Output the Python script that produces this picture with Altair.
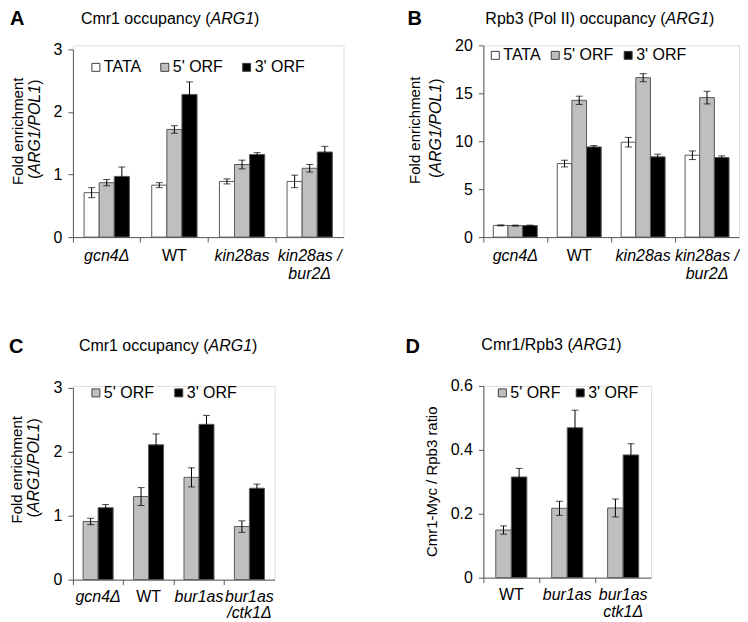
import altair as alt
import pandas as pd

FONT = "Liberation Sans"
AX = "#595959"

SERIES3 = ["TATA", "5' ORF", "3' ORF"]
SERIES2 = ["5' ORF", "3' ORF"]
COL3 = ["#ffffff", "#bfbfbf", "#000000"]
COL2 = ["#bfbfbf", "#000000"]

# Panel A: Cmr1 occupancy
A_cats = ["gcn4Δ", "WT", "kin28as", "kin28as /\nbur2Δ"]
A_tata = [0.71, 0.83, 0.89, 0.89]
A_tata_err = [0.08, 0.04, 0.04, 0.10]
A_5orf = [0.87, 1.72, 1.16, 1.10]
A_5orf_err = [0.05, 0.06, 0.07, 0.06]
A_3orf = [0.97, 2.28, 1.32, 1.36]
A_3orf_err = [0.15, 0.20, 0.03, 0.09]

# Panel B: Rpb3 occupancy
B_cats = ["gcn4Δ", "WT", "kin28as", "kin28as /\nbur2Δ"]
B_tata = [1.22, 7.67, 9.90, 8.54]
B_tata_err = [0.05, 0.35, 0.50, 0.45]
B_5orf = [1.20, 14.27, 16.63, 14.55]
B_5orf_err = [0.05, 0.43, 0.42, 0.66]
B_3orf = [1.20, 9.41, 8.37, 8.30]
B_3orf_err = [0.05, 0.14, 0.28, 0.17]

# Panel C: Cmr1 occupancy
C_cats = ["gcn4Δ", "WT", "bur1as", "bur1as\n/ctk1Δ"]
C_5orf = [0.91, 1.30, 1.60, 0.83]
C_5orf_err = [0.05, 0.14, 0.15, 0.09]
C_3orf = [1.125, 2.11, 2.43, 1.43]
C_3orf_err = [0.05, 0.17, 0.14, 0.065]

# Panel D: Cmr1/Rpb3 ratio
D_cats = ["WT", "bur1as", "bur1as\nctk1Δ"]
D_5orf = [0.149, 0.217, 0.218]
D_5orf_err = [0.013, 0.022, 0.028]
D_3orf = [0.315, 0.469, 0.384]
D_3orf_err = [0.027, 0.055, 0.035]

# Arial / Liberation Sans advance widths (per 1000 em)
W = {" ": 278, "(": 333, ")": 333, "/": 278, "1": 556, "3": 556, "A": 667, "C": 722,
     "G": 778, "I": 278, "L": 556, "O": 778, "P": 667, "R": 722, "a": 556, "b": 556,
     "c": 500, "l": 222, "m": 833, "n": 556, "o": 556, "p": 556, "r": 333, "u": 556,
     "y": 500}


def tw(s, size):
    return sum(W.get(ch, 556) for ch in s) * size / 1000.0


def frame(cats, series, vals, errs):
    rows = []
    for s, v, e in zip(series, vals, errs):
        for c, vv, ee in zip(cats, v, e):
            rows.append({"cat": c, "series": s, "val": vv, "lo": vv - ee, "hi": vv + ee})
    return pd.DataFrame(rows)


def txt(s, x, y, size=16, style="normal", weight="normal", angle=0,
        align="left", baseline="alphabetic"):
    kw = dict(font=FONT, fontSize=size, fontStyle=style, fontWeight=weight,
              align=align, baseline=baseline, color="black")
    if angle:
        kw["angle"] = angle
    return alt.Chart(pd.DataFrame({"t": [s]})).mark_text(**kw).encode(
        text="t:N", x=alt.value(x), y=alt.value(y))


def htitle(pieces, x, y, size=16):
    out = []
    cx = x
    for s, style in pieces:
        out.append(txt(s, cx, y, size=size, style=style))
        cx += tw(s, size)
    return out


def vtitle(pieces, cx, cy, size=16):
    total = sum(tw(s, size) for s, _ in pieces)
    out = []
    y = cy + total / 2.0
    for s, style in pieces:
        out.append(txt(s, cx, y, size=size, style=style, angle=270,
                       align="left", baseline="middle"))
        y -= tw(s, size)
    return out


def panel(df, cats, series, colors, width, height, yrange, ydomain, yvalues, yfmt,
          off_pad, leg_x, leg_y, col_pad, lab_pad, lab_lh, annotations):
    xaxis = alt.Axis(title=None, bandPosition=0, domainColor=AX, tickColor=AX,
                     tickSize=5, labelAngle=0, labelFont=FONT, labelFontSize=16,
                     labelColor="black", labelPadding=lab_pad,
                     labelExpr="split(datum.label, '\\n')", labelLineHeight=lab_lh,
                     labelFontStyle={"condition": {"test": "datum.value == 'WT'",
                                                   "value": "normal"},
                                     "value": "italic"})
    yscale = alt.Scale(domain=ydomain, range=yrange, nice=False)
    yaxis = alt.Axis(title=None, values=yvalues, grid=False, domainColor=AX,
                     tickColor=AX, tickSize=5, labelFont=FONT, labelFontSize=16,
                     labelColor="black", labelPadding=6, format=yfmt)
    base = alt.Chart(df).encode(
        x=alt.X("cat:N", sort=cats, scale=alt.Scale(paddingInner=0, paddingOuter=0),
                axis=xaxis),
        xOffset=alt.XOffset("series:N", sort=series,
                            scale=alt.Scale(paddingInner=0, paddingOuter=off_pad)),
    )
    bars = base.mark_bar(stroke=AX, strokeWidth=1).encode(
        y=alt.Y("val:Q", scale=yscale, axis=yaxis),
        color=alt.Color("series:N", sort=series,
                        scale=alt.Scale(domain=series, range=colors),
                        legend=alt.Legend(orient="none", legendX=leg_x, legendY=leg_y,
                                          direction="horizontal", title=None,
                                          symbolType="square", symbolSize=64,
                                          symbolStrokeColor="#404040",
                                          symbolStrokeWidth=1, labelFont=FONT,
                                          labelFontSize=16, labelColor="black",
                                          labelOffset=0, columnPadding=col_pad,
                                          padding=0)),
    )
    rules = base.mark_rule(color="black", strokeWidth=1).encode(
        y=alt.Y("lo:Q", scale=yscale, axis=yaxis), y2="hi:Q")
    cap_hi = base.mark_tick(color="black", thickness=1, size=7,
                            orient="horizontal").encode(
        y=alt.Y("hi:Q", scale=yscale, axis=yaxis))
    cap_lo = base.mark_tick(color="black", thickness=1, size=7,
                            orient="horizontal").encode(
        y=alt.Y("lo:Q", scale=yscale, axis=yaxis))
    return alt.layer(bars, rules, cap_lo, cap_hi, *annotations).properties(
        width=width, height=height)


dfA = frame(A_cats, SERIES3, [A_tata, A_5orf, A_3orf], [A_tata_err, A_5orf_err, A_3orf_err])
dfB = frame(B_cats, SERIES3, [B_tata, B_5orf, B_3orf], [B_tata_err, B_5orf_err, B_3orf_err])
dfC = frame(C_cats, SERIES2, [C_5orf, C_3orf], [C_5orf_err, C_3orf_err])
dfD = frame(D_cats, SERIES2, [D_5orf, D_3orf], [D_5orf_err, D_3orf_err])

annA = ([txt("A", -63, -20, size=20, weight="bold")]
        + htitle([("Cmr1 occupancy (", "normal"), ("ARG1", "italic"), (")", "normal")], 8, -21)
        + [txt("Fold enrichment", -55, 86, size=15, angle=270, align="center", baseline="middle")]
        + vtitle([("(", "normal"), ("ARG1/POL1", "italic"), (")", "normal")], -38, 84))
annB = ([txt("B", -76, -20, size=20, weight="bold")]
        + htitle([("Rpb3 (Pol II) occupancy (", "normal"), ("ARG1", "italic"), (")", "normal")], 2, -21)
        + [txt("Fold enrichment", -68, 85, size=15, angle=270, align="center", baseline="middle")]
        + vtitle([("(", "normal"), ("ARG1/POL1", "italic"), (")", "normal")], -47, 83))
annC = ([txt("C", -64, -33, size=20, weight="bold")]
        + htitle([("Cmr1 occupancy (", "normal"), ("ARG1", "italic"), (")", "normal")], 6, -35)
        + [txt("Fold enrichment", -56, 84, size=15, angle=270, align="center", baseline="middle")]
        + vtitle([("(", "normal"), ("ARG1/POL1", "italic"), (")", "normal")], -39, 82))
annD = ([txt("D", -78, -33, size=20, weight="bold")]
        + htitle([("Cmr1/Rpb3 (", "normal"), ("ARG1", "italic"), (")", "normal")], -2, -36)
        + [txt("Cmr1-Myc / Rpb3 ratio", -51, 96, size=15, angle=270, align="center", baseline="middle")])

pA = panel(dfA, A_cats, SERIES3, COL3, 271, 192, [192, 4], [0, 3], [0, 1, 2, 3], "d",
           0.74, 15, 14, 15, 5, 18, annA)
pB = panel(dfB, B_cats, SERIES3, COL3, 256, 192, [192, 0], [0, 20], [0, 5, 10, 15, 20], "d",
           0.68, 4, 2, 6, 5, 18, annB)
pC = panel(dfC, C_cats, SERIES2, COL2, 202, 194, [194, 2], [0, 3], [0, 1, 2, 3], "d",
           0.68, 15, -1, 16, 4, 16, annC)
pD = panel(dfD, D_cats, SERIES2, COL2, 168, 192, [192, 0], [0, 0.6], [0, 0.2, 0.4, 0.6], ".1~f",
           0.8, 11, -1, 11, 4, 17, annD)

chart = alt.concat(pA, pB, pC, pD, columns=2, spacing={"row": 149, "column": 140},
                   bounds="flush").properties(padding=0).resolve_scale(
    color="independent", x="independent", y="independent", xOffset="independent"
).configure_view(stroke=None).configure(font=FONT)

chart.save("out.html", embed_options={"renderer": "svg", "actions": False})
